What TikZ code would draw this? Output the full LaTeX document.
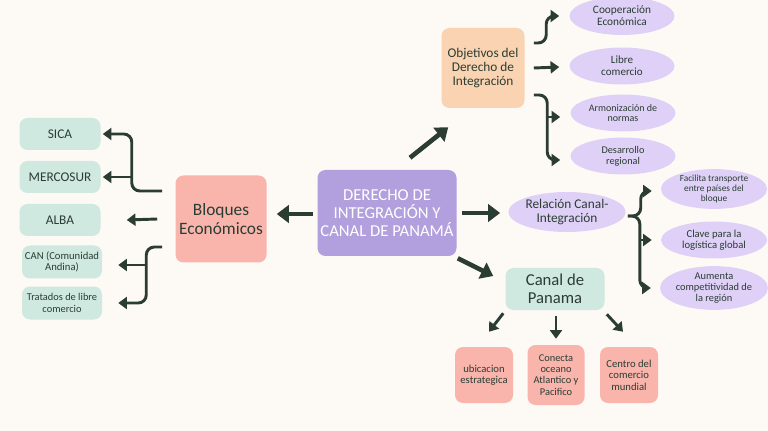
\documentclass[tikz,border=0pt]{standalone}
\usepackage{fontspec}
\setmainfont{Carlito}
\usetikzlibrary{calc}
\usetikzlibrary{shapes.geometric}
\usetikzlibrary{arrows.meta}

\definecolor{paper}{HTML}{FDF9F5}
\definecolor{mint}{HTML}{CFE8E0}
\definecolor{rose}{HTML}{F9B4AC}
\definecolor{lilac}{HTML}{B29FDD}
\definecolor{lavender}{HTML}{DFD0F7}
\definecolor{peach}{HTML}{FAD4B2}
\definecolor{ink}{HTML}{2B3D33}

\tikzset{
  box/.style={rounded corners=6pt, align=center, text=ink, inner sep=0pt},
  oval/.style={ellipse, fill=lavender, align=center, text=ink, inner sep=0pt},
  link/.style={draw=ink, line width=3.5pt, -{Triangle[length=9pt,width=13pt]}},
  twig/.style={draw=ink, line width=2.2pt, rounded corners=6pt, -{Triangle[length=6.5pt,width=9pt]}},
  fs/.style={font=\pgfmathsetmacro\lh{1.08*#1}\fontsize{#1}{\lh}\selectfont}
}

\begin{document}
\begin{tikzpicture}[x=0.75pt, y=-0.75pt]
\def\u{0.75pt}

\clip (0, 0) rectangle (768, 431);
\fill[paper] (0, 0) rectangle (768, 431);

% centre and main branches
\node[box, fill=lilac, text=white, minimum width=139*\u, minimum height=86*\u, fs=12.5] (root) at (387, 213) {DERECHO DE\\INTEGRACIÓN Y\\CANAL DE PANAMÁ};
\node[box, fill=rose, minimum width=91*\u, minimum height=87*\u, fs=13] (bloques) at (221, 219) {Bloques\\Económicos};
\node[box, fill=peach, minimum width=83*\u, minimum height=80*\u, fs=10] (obj) at (483, 68) {Objetivos del\\Derecho de\\Integración};
\node[oval, minimum width=111*\u, minimum height=40*\u, fs=10] (rel) at (567, 212) {Relación Canal-\\Integración};
\node[box, fill=mint, minimum width=99*\u, minimum height=42*\u, fs=12.5] (canal) at (555, 289) {Canal de\\Panama};

% bloques
\node[box, fill=mint, minimum width=81*\u, minimum height=32*\u, fs=10] (sica) at (60, 134) {SICA};
\node[box, fill=mint, minimum width=81*\u, minimum height=32*\u, fs=10] (merco) at (60, 177) {MERCOSUR};
\node[box, fill=mint, minimum width=81*\u, minimum height=32*\u, fs=10] (alba) at (60, 220) {ALBA};
\node[box, fill=mint, minimum width=80*\u, minimum height=33*\u, fs=8] (can) at (62, 262) {CAN (Comunidad\\Andina)};
\node[box, fill=mint, minimum width=80*\u, minimum height=33*\u, fs=7.8] (trat) at (62, 303) {Tratados de libre\\comercio};

% objetivos
\node[oval, minimum width=105*\u, minimum height=38*\u, fs=8.5] (coop) at (622, 16) {Cooperación\\Económica};
\node[oval, minimum width=105*\u, minimum height=37*\u, fs=8.3] (libre) at (622, 66) {Libre\\comercio};
\node[oval, minimum width=105*\u, minimum height=37*\u, fs=7.5] (armon) at (623, 113) {Armonización de\\normas};
\node[oval, minimum width=105*\u, minimum height=37*\u, fs=7.7] (desa) at (623, 156) {Desarrollo\\regional};

% relacion
\node[oval, minimum width=106*\u, minimum height=37*\u, fs=7] (facil) at (714, 189) {Facilita transporte\\entre países del\\bloque};
\node[oval, minimum width=106*\u, minimum height=37*\u, fs=8] (clave) at (714, 240) {Clave para la\\logística global};
\node[oval, minimum width=106*\u, minimum height=42*\u, fs=7.8] (aum) at (714, 288) {Aumenta\\competitividad de\\la región};

% canal
\node[box, fill=rose, minimum width=58*\u, minimum height=56*\u, fs=8] (ubic) at (484, 375) {ubicacion\\estrategica};
\node[box, fill=rose, minimum width=57*\u, minimum height=60*\u, fs=7.8] (conec) at (556, 375) {Conecta\\oceano\\Atlantico y\\Pacifico};
\node[box, fill=rose, minimum width=58*\u, minimum height=56*\u, fs=8] (centro) at (629, 375) {Centro del\\comercio\\mundial};

% arrows from the centre
\draw[link] ($(root.west)+(-4,1)$) -- ($(bloques.east)+(10,-5)$);
\draw[link] ($(root.north)+(23,-12)$) -- ($(obj.south west)+(7,19)$);
\draw[link] ($(root.east)+(5,0)$) -- ($(rel.west)+(-8,1)$);
\draw[link] ($(root.south east)+(1,2)$) -- ($(canal.west)+(-12,-13)$);

% bloques
\draw[twig] ($(bloques.west)+(-13,-28)$) -| ($(sica.east)+(31,0)$) -- ($(sica.east)+(2,0)$);
\draw[twig] ($(merco.east)+(32,0)$) -- ($(merco.east)+(2,0)$);
\draw[twig] ($(bloques.west)+(-18,0)$) -- ($(alba.east)+(26,0)$);
\draw[twig] ($(bloques.west)+(-13,28)$) -| ($(trat.east)+(44,0)$) -- ($(trat.east)+(16,0)$);
\draw[twig] ($(trat.east)+(45,-38)$) -- ($(trat.east)+(16,-38)$);

% objetivos
\draw[twig] ($(obj.east)+(9,-25)$) -| ($(coop.west)+(-23,0)$) -- ($(coop.west)+(-10,0)$);
\draw[twig] ($(obj.east)+(9,0)$) -- ($(libre.west)+(-10,1)$);
\draw[twig] ($(obj.east)+(9,27)$) -| ($(desa.west)+(-23,4)$) -- ($(desa.west)+(-10,4)$);
\draw[twig] ($(armon.west)+(-24,4)$) -- ($(armon.west)+(-10,4)$);

% relacion
\draw[twig] ($(rel.east)+(2,4)$) -| ($(facil.west)+(-20,2)$) -- ($(facil.west)+(-9,2)$);
\draw[twig] ($(rel.east)+(2,4)$) -| ($(aum.west)+(-20,0)$) -- ($(aum.west)+(-9,0)$);
\draw[twig] ($(clave.west)+(-21,0)$) -- ($(clave.west)+(-9,0)$);

% canal
\draw[twig] ($(canal.south west)+(-2,3)$) -- ($(ubic.north)+(5,-15)$);
\draw[twig] ($(canal.south)+(1,6)$) -- ($(conec.north)+(0,-6)$);
\draw[twig] ($(canal.south east)+(2,4)$) -- ($(centro.north)+(-6,-15)$);
\end{tikzpicture}
\end{document}
